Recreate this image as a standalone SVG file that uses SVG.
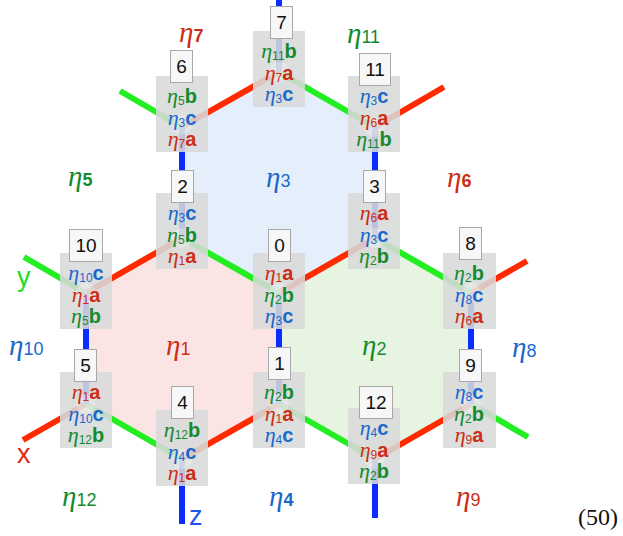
<svg xmlns="http://www.w3.org/2000/svg" width="623" height="536" viewBox="0 0 623 536">
  <style>
    .edge { stroke-width: 6; fill: none; stroke-linecap: butt; }
    .ea { stroke: #ff2a00; }
    .eb { stroke: #22ee22; }
    .ec { stroke: #0a2cff; }
    .box { fill: #d8d9da; fill-opacity: 0.88; }
    .hub { fill: #ffffff; fill-opacity: 0.25; }
    .tag { fill: #f7f7f7; stroke: #a8a8a8; stroke-width: 1; }
    .num { font-family: "Liberation Sans", Arial, sans-serif; font-size: 19px; fill: #111; text-anchor: middle; }
    .row { text-anchor: middle; }
    .eta { font-family: "Liberation Serif", "Times New Roman", serif; font-style: italic; font-size: 22px; }
    .sub { font-family: "Liberation Sans", Arial, sans-serif; font-size: 12px; }
    .let { font-family: "Liberation Sans", Arial, sans-serif; font-size: 20px; font-weight: bold; }
    .ra { fill: #cc2e16; }
    .gb { fill: #138a2e; }
    .bc { fill: #1a68cc; }
    .face { font-family: "Liberation Serif", "Times New Roman", serif; font-style: italic; font-size: 29px; }
    .fd { font-family: "Liberation Sans", Arial, sans-serif; font-style: normal; font-size: 18px; }
    .fdb { font-weight: bold; }
    .axis { font-family: "Liberation Sans", Arial, sans-serif; font-size: 27px; }
    .eqn { font-family: "Liberation Serif", "Times New Roman", serif; font-size: 24px; fill: #111; }
  </style>

  <!-- plaquette fills -->
  <g id="faces">
    <polygon id="face-eta3" points="279,72 375,127 375,238 279,293 182,238 182,127" fill="#e4effb"/>
    <polygon id="face-eta1" points="182,238 279,293 279,404 182,459 86,404 86,293" fill="#fbe5e4"/>
    <polygon id="face-eta2" points="375,238 471,293 471,404 375,459 279,404 279,293" fill="#e8f4e2"/>
  </g>

  <!-- links: a = red, b = green, c = blue -->
  <g id="connectors">
    <line class="edge ea" x1="182" y1="127" x2="279" y2="72"/>
    <line class="edge ea" x1="375" y1="127" x2="444" y2="87"/>
    <line class="edge ea" x1="86" y1="293" x2="182" y2="238"/>
    <line class="edge ea" x1="279" y1="293" x2="375" y2="238"/>
    <line class="edge ea" x1="471" y1="293" x2="527" y2="261"/>
    <line class="edge ea" x1="86" y1="404" x2="23" y2="440"/>
    <line class="edge ea" x1="182" y1="459" x2="279" y2="404"/>
    <line class="edge ea" x1="375" y1="459" x2="471" y2="404"/>

    <line class="edge eb" x1="182" y1="127" x2="120" y2="91"/>
    <line class="edge eb" x1="279" y1="72" x2="375" y2="127"/>
    <line class="edge eb" x1="182" y1="238" x2="279" y2="293"/>
    <line class="edge eb" x1="375" y1="238" x2="471" y2="293"/>
    <line class="edge eb" x1="86" y1="293" x2="24" y2="257"/>
    <line class="edge eb" x1="86" y1="404" x2="182" y2="459"/>
    <line class="edge eb" x1="279" y1="404" x2="375" y2="459"/>
    <line class="edge eb" x1="471" y1="404" x2="528" y2="437"/>

    <line class="edge ec" x1="279" y1="72" x2="279" y2="0"/>
    <line class="edge ec" x1="182" y1="127" x2="182" y2="238"/>
    <line class="edge ec" x1="375" y1="127" x2="375" y2="238"/>
    <line class="edge ec" x1="86" y1="293" x2="86" y2="404"/>
    <line class="edge ec" x1="279" y1="293" x2="279" y2="404"/>
    <line class="edge ec" x1="471" y1="293" x2="471" y2="404"/>
    <line class="edge ec" x1="182" y1="459" x2="182" y2="524"/>
    <line class="edge ec" x1="375" y1="459" x2="375" y2="518"/>
  </g>

  <!-- sites -->
  <g id="node-0">
    <rect class="box" x="253" y="253" width="52" height="76"/>
    <circle class="hub" cx="279" cy="293" r="10"/>
    <text class="row" x="279" y="280"><tspan class="eta ra">η</tspan><tspan class="sub ra" dy="2">1</tspan><tspan class="let ra" dy="-2">a</tspan></text>
    <text class="row" x="279" y="302"><tspan class="eta gb">η</tspan><tspan class="sub gb" dy="2">2</tspan><tspan class="let gb" dy="-2">b</tspan></text>
    <text class="row" x="279" y="323"><tspan class="eta bc">η</tspan><tspan class="sub bc" dy="2">3</tspan><tspan class="let bc" dy="-2">c</tspan></text>
    <rect class="tag" x="268.5" y="229.5" width="22" height="32"/>
    <text class="num" x="279.5" y="252">0</text>
  </g>

  <g id="node-1">
    <rect class="box" x="253" y="372" width="52" height="76"/>
    <circle class="hub" cx="279" cy="404" r="10"/>
    <text class="row" x="279" y="399"><tspan class="eta gb">η</tspan><tspan class="sub gb" dy="2">2</tspan><tspan class="let gb" dy="-2">b</tspan></text>
    <text class="row" x="279" y="421"><tspan class="eta ra">η</tspan><tspan class="sub ra" dy="2">1</tspan><tspan class="let ra" dy="-2">a</tspan></text>
    <text class="row" x="279" y="442"><tspan class="eta bc">η</tspan><tspan class="sub bc" dy="2">4</tspan><tspan class="let bc" dy="-2">c</tspan></text>
    <rect class="tag" x="268.5" y="347.5" width="22" height="32"/>
    <text class="num" x="279.5" y="370">1</text>
  </g>

  <g id="node-2">
    <rect class="box" x="156" y="193" width="52" height="76"/>
    <circle class="hub" cx="182" cy="238" r="10"/>
    <text class="row" x="182" y="220"><tspan class="eta bc">η</tspan><tspan class="sub bc" dy="2">3</tspan><tspan class="let bc" dy="-2">c</tspan></text>
    <text class="row" x="182" y="242"><tspan class="eta gb">η</tspan><tspan class="sub gb" dy="2">5</tspan><tspan class="let gb" dy="-2">b</tspan></text>
    <text class="row" x="182" y="263"><tspan class="eta ra">η</tspan><tspan class="sub ra" dy="2">1</tspan><tspan class="let ra" dy="-2">a</tspan></text>
    <rect class="tag" x="171.5" y="170.5" width="22" height="32"/>
    <text class="num" x="182.5" y="193">2</text>
  </g>

  <g id="node-3">
    <rect class="box" x="348" y="193" width="52" height="76"/>
    <circle class="hub" cx="375" cy="238" r="10"/>
    <text class="row" x="374" y="220"><tspan class="eta ra">η</tspan><tspan class="sub ra" dy="2">6</tspan><tspan class="let ra" dy="-2">a</tspan></text>
    <text class="row" x="374" y="242"><tspan class="eta bc">η</tspan><tspan class="sub bc" dy="2">3</tspan><tspan class="let bc" dy="-2">c</tspan></text>
    <text class="row" x="374" y="263"><tspan class="eta gb">η</tspan><tspan class="sub gb" dy="2">2</tspan><tspan class="let gb" dy="-2">b</tspan></text>
    <rect class="tag" x="363.5" y="170.5" width="22" height="32"/>
    <text class="num" x="374.5" y="193">3</text>
  </g>

  <g id="node-4">
    <rect class="box" x="156" y="410" width="52" height="76"/>
    <circle class="hub" cx="182" cy="459" r="10"/>
    <text class="row" x="182" y="437"><tspan class="eta gb">η</tspan><tspan class="sub gb" dy="2">12</tspan><tspan class="let gb" dy="-2">b</tspan></text>
    <text class="row" x="182" y="459"><tspan class="eta bc">η</tspan><tspan class="sub bc" dy="2">4</tspan><tspan class="let bc" dy="-2">c</tspan></text>
    <text class="row" x="182" y="480"><tspan class="eta ra">η</tspan><tspan class="sub ra" dy="2">1</tspan><tspan class="let ra" dy="-2">a</tspan></text>
    <rect class="tag" x="171.5" y="386.5" width="22" height="32"/>
    <text class="num" x="182.5" y="409">4</text>
  </g>

  <g id="node-5">
    <rect class="box" x="60" y="372" width="52" height="76"/>
    <circle class="hub" cx="86" cy="404" r="10"/>
    <text class="row" x="86" y="399"><tspan class="eta ra">η</tspan><tspan class="sub ra" dy="2">1</tspan><tspan class="let ra" dy="-2">a</tspan></text>
    <text class="row" x="86" y="421"><tspan class="eta bc">η</tspan><tspan class="sub bc" dy="2">10</tspan><tspan class="let bc" dy="-2">c</tspan></text>
    <text class="row" x="86" y="442"><tspan class="eta gb">η</tspan><tspan class="sub gb" dy="2">12</tspan><tspan class="let gb" dy="-2">b</tspan></text>
    <rect class="tag" x="74.5" y="349.5" width="22" height="32"/>
    <text class="num" x="85.5" y="372">5</text>
  </g>

  <g id="node-6">
    <rect class="box" x="156" y="76" width="52" height="76"/>
    <circle class="hub" cx="182" cy="125" r="10"/>
    <text class="row" x="182" y="103"><tspan class="eta gb">η</tspan><tspan class="sub gb" dy="2">5</tspan><tspan class="let gb" dy="-2">b</tspan></text>
    <text class="row" x="182" y="125"><tspan class="eta bc">η</tspan><tspan class="sub bc" dy="2">3</tspan><tspan class="let bc" dy="-2">c</tspan></text>
    <text class="row" x="182" y="146"><tspan class="eta ra">η</tspan><tspan class="sub ra" dy="2">7</tspan><tspan class="let ra" dy="-2">a</tspan></text>
    <rect class="tag" x="170.5" y="50.5" width="22" height="32"/>
    <text class="num" x="181.5" y="73">6</text>
  </g>

  <g id="node-7">
    <rect class="box" x="253" y="31" width="52" height="76"/>
    <circle class="hub" cx="279" cy="72" r="10"/>
    <text class="row" x="279" y="58"><tspan class="eta gb">η</tspan><tspan class="sub gb" dy="2">11</tspan><tspan class="let gb" dy="-2">b</tspan></text>
    <text class="row" x="279" y="80"><tspan class="eta ra">η</tspan><tspan class="sub ra" dy="2">7</tspan><tspan class="let ra" dy="-2">a</tspan></text>
    <text class="row" x="279" y="101"><tspan class="eta bc">η</tspan><tspan class="sub bc" dy="2">3</tspan><tspan class="let bc" dy="-2">c</tspan></text>
    <rect class="tag" x="270.5" y="6.5" width="22" height="32"/>
    <text class="num" x="281.5" y="29">7</text>
  </g>

  <g id="node-8">
    <rect class="box" x="443" y="253" width="53" height="76"/>
    <circle class="hub" cx="471" cy="293" r="10"/>
    <text class="row" x="469" y="280"><tspan class="eta gb">η</tspan><tspan class="sub gb" dy="2">2</tspan><tspan class="let gb" dy="-2">b</tspan></text>
    <text class="row" x="469" y="302"><tspan class="eta bc">η</tspan><tspan class="sub bc" dy="2">8</tspan><tspan class="let bc" dy="-2">c</tspan></text>
    <text class="row" x="469" y="323"><tspan class="eta ra">η</tspan><tspan class="sub ra" dy="2">6</tspan><tspan class="let ra" dy="-2">a</tspan></text>
    <rect class="tag" x="459.5" y="227.5" width="22" height="32"/>
    <text class="num" x="470.5" y="250">8</text>
  </g>

  <g id="node-9">
    <rect class="box" x="443" y="372" width="53" height="76"/>
    <circle class="hub" cx="471" cy="404" r="10"/>
    <text class="row" x="469" y="399"><tspan class="eta bc">η</tspan><tspan class="sub bc" dy="2">8</tspan><tspan class="let bc" dy="-2">c</tspan></text>
    <text class="row" x="469" y="421"><tspan class="eta gb">η</tspan><tspan class="sub gb" dy="2">2</tspan><tspan class="let gb" dy="-2">b</tspan></text>
    <text class="row" x="469" y="442"><tspan class="eta ra">η</tspan><tspan class="sub ra" dy="2">9</tspan><tspan class="let ra" dy="-2">a</tspan></text>
    <rect class="tag" x="459.5" y="349.5" width="22" height="32"/>
    <text class="num" x="470.5" y="372">9</text>
  </g>

  <g id="node-10">
    <rect class="box" x="60" y="253" width="52" height="76"/>
    <circle class="hub" cx="86" cy="293" r="10"/>
    <text class="row" x="86" y="280"><tspan class="eta bc">η</tspan><tspan class="sub bc" dy="2">10</tspan><tspan class="let bc" dy="-2">c</tspan></text>
    <text class="row" x="86" y="302"><tspan class="eta ra">η</tspan><tspan class="sub ra" dy="2">1</tspan><tspan class="let ra" dy="-2">a</tspan></text>
    <text class="row" x="86" y="323"><tspan class="eta gb">η</tspan><tspan class="sub gb" dy="2">5</tspan><tspan class="let gb" dy="-2">b</tspan></text>
    <rect class="tag" x="69.5" y="229.5" width="33" height="32"/>
    <text class="num" x="86" y="252">10</text>
  </g>

  <g id="node-11">
    <rect class="box" x="348" y="76" width="52" height="76"/>
    <circle class="hub" cx="375" cy="127" r="10"/>
    <text class="row" x="374" y="103"><tspan class="eta bc">η</tspan><tspan class="sub bc" dy="2">3</tspan><tspan class="let bc" dy="-2">c</tspan></text>
    <text class="row" x="374" y="125"><tspan class="eta ra">η</tspan><tspan class="sub ra" dy="2">6</tspan><tspan class="let ra" dy="-2">a</tspan></text>
    <text class="row" x="374" y="146"><tspan class="eta gb">η</tspan><tspan class="sub gb" dy="2">11</tspan><tspan class="let gb" dy="-2">b</tspan></text>
    <rect class="tag" x="359.5" y="53.5" width="31" height="32"/>
    <text class="num" x="375" y="76">11</text>
  </g>

  <g id="node-12">
    <rect class="box" x="348" y="408" width="52" height="76"/>
    <circle class="hub" cx="375" cy="459" r="10"/>
    <text class="row" x="374" y="435"><tspan class="eta bc">η</tspan><tspan class="sub bc" dy="2">4</tspan><tspan class="let bc" dy="-2">c</tspan></text>
    <text class="row" x="374" y="457"><tspan class="eta ra">η</tspan><tspan class="sub ra" dy="2">9</tspan><tspan class="let ra" dy="-2">a</tspan></text>
    <text class="row" x="374" y="478"><tspan class="eta gb">η</tspan><tspan class="sub gb" dy="2">2</tspan><tspan class="let gb" dy="-2">b</tspan></text>
    <rect class="tag" x="359.5" y="386.5" width="33" height="32"/>
    <text class="num" x="376" y="409">12</text>
  </g>

  <!-- plaquette labels -->
  <g id="face-labels">
    <text class="face ra" x="179" y="42">η<tspan class="fd fdb">7</tspan></text>
    <text class="face gb" x="347" y="43">η<tspan class="fd">11</tspan></text>
    <text class="face gb" x="68" y="186">η<tspan class="fd fdb">5</tspan></text>
    <text class="face bc" x="266" y="187">η<tspan class="fd">3</tspan></text>
    <text class="face ra" x="447" y="187">η<tspan class="fd fdb">6</tspan></text>
    <text class="face bc" x="9" y="355">η<tspan class="fd">10</tspan></text>
    <text class="face ra" x="166" y="355">η<tspan class="fd">1</tspan></text>
    <text class="face gb" x="362" y="355">η<tspan class="fd">2</tspan></text>
    <text class="face bc" x="512" y="357">η<tspan class="fd">8</tspan></text>
    <text class="face gb" x="62" y="506">η<tspan class="fd">12</tspan></text>
    <text class="face bc" x="269" y="506">η<tspan class="fd fdb">4</tspan></text>
    <text class="face ra" x="456" y="506">η<tspan class="fd">9</tspan></text>
  </g>

  <!-- axis letters and equation number -->
  <g id="axis-labels">
    <text class="axis" x="17" y="286" fill="#22dd22">y</text>
    <text class="axis" x="17" y="463" fill="#e02a10">x</text>
    <text class="axis" x="189" y="525" fill="#1a55ee">z</text>
    <text class="eqn" x="578" y="525">(50)</text>
  </g>
</svg>
